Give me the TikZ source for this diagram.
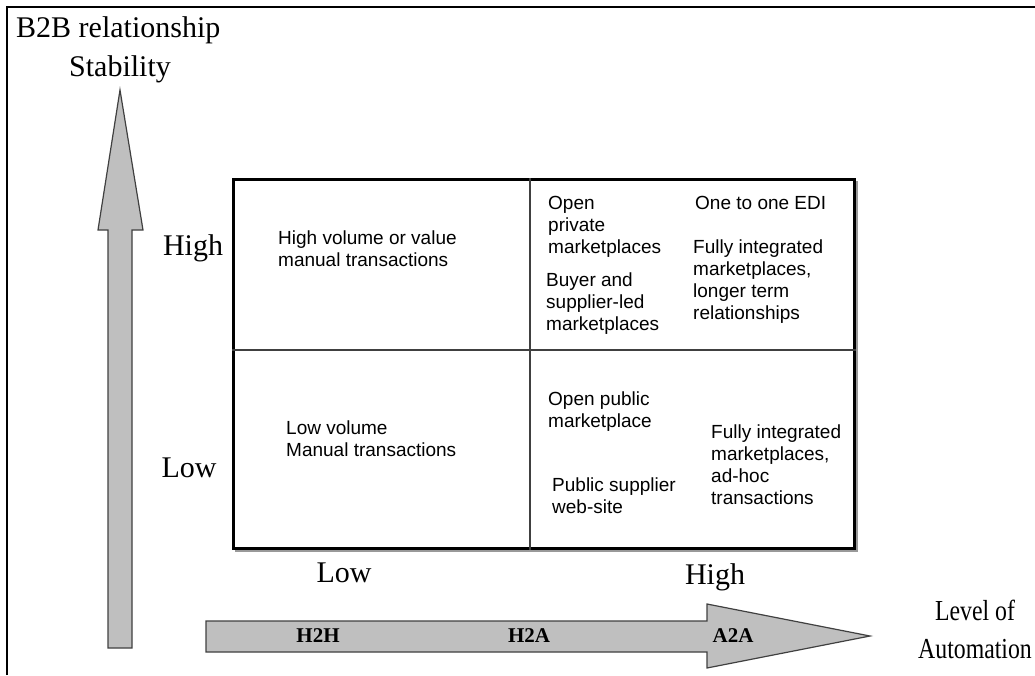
\documentclass[tikz,border=0pt]{standalone}
\usepackage{fontspec}
\setmainfont{Liberation Serif}
\newfontfamily\cellfont{Liberation Sans}
\usetikzlibrary{positioning}

\begin{document}
\begin{tikzpicture}
	[x=1pt,y=-1pt,every node/.style={inner sep=0pt},
	cell/.style={font=\cellfont\fontsize{19}{22}\selectfont,align=left,anchor=west},
	axis/.style={font=\fontsize{30}{34}\selectfont},
	tag/.style={font=\bfseries\fontsize{21}{24}\selectfont},
	bigarrow/.style={draw=black!75,fill=black!25,line width=1.2pt,line join=miter},
	divider/.style={draw=black!75,line width=1.2pt}]
	\useasboundingbox (0,0) rectangle (1035,675);
	\draw[line width=2.5pt] (7,675) -- (7,7) -- (1035,7);

	% axis arrows
	\draw[bigarrow] (108,648) -- (108,230) -- (98,230) -- (120,90) -- (143,230) -- (132,230) -- (132,648) -- cycle;
	\draw[bigarrow] (206,621) -- (707,621) -- (707,604) -- (870,636) -- (707,668) -- (707,652) -- (206,652) -- cycle;

	% quadrant box
	\node[draw=black!40,line width=2pt,minimum width=621pt,minimum height=369pt,anchor=north west] (shadow) at (235,181) {};
	\node[draw,fill=white,line width=2.5pt,minimum width=621pt,minimum height=369pt,anchor=north west] (grid) at (232,178) {};
	\coordinate (mid) at (530,350);
	\draw[divider] (mid |- grid.north) -- (mid |- grid.south);
	\draw[divider] (mid -| grid.west) -- (mid -| grid.east);

	\node[cell] (hvv) at (278,249) {High volume or value\\manual transactions};
	\node[cell] (lvm) at (286,439) {Low volume\\Manual transactions};
	\node[cell] (opm) at (548,227) {Open\\private\\marketplaces};
	\node[cell] (bsm) at (546,304) {Buyer and\\supplier-led\\marketplaces};
	\node[cell] (edi) at (695,203) {One to one EDI};
	\node[cell] (fil) at (693,282) {Fully integrated\\marketplaces,\\longer term\\relationships};
	\node[cell] (opu) at (548,412) {Open public\\marketplace};
	\node[cell] (psw) at (552,496) {Public supplier\\web-site};
	\node[cell] (fia) at (711,465) {Fully integrated\\marketplaces,\\ad-hoc\\transactions};

	% axis labels
	\node[axis,anchor=west] (title) at (16,30) {B2B relationship};
	\node[axis] (stab) at (120,69) {Stability};
	\node[axis] (yhigh) at (193,248) {High};
	\node[axis] (ylow) at (189,468) {Low};
	\node[axis] (xlow) at (344,573) {Low};
	\node[axis] (xhigh) at (715,577) {High};
	\node[font=\fontsize{29}{38}\selectfont] (level) at (975,632)
		{\scalebox{0.82}[1]{\begin{tabular}{@{}c@{}}Level of\\Automation\end{tabular}}};

	\foreach \name/\x/\txt in {h2h/318/H2H,h2a/529/H2A,a2a/733/A2A}
	\node[tag] (\name) at (\x,636) {\txt};

\end{tikzpicture}
\end{document}
